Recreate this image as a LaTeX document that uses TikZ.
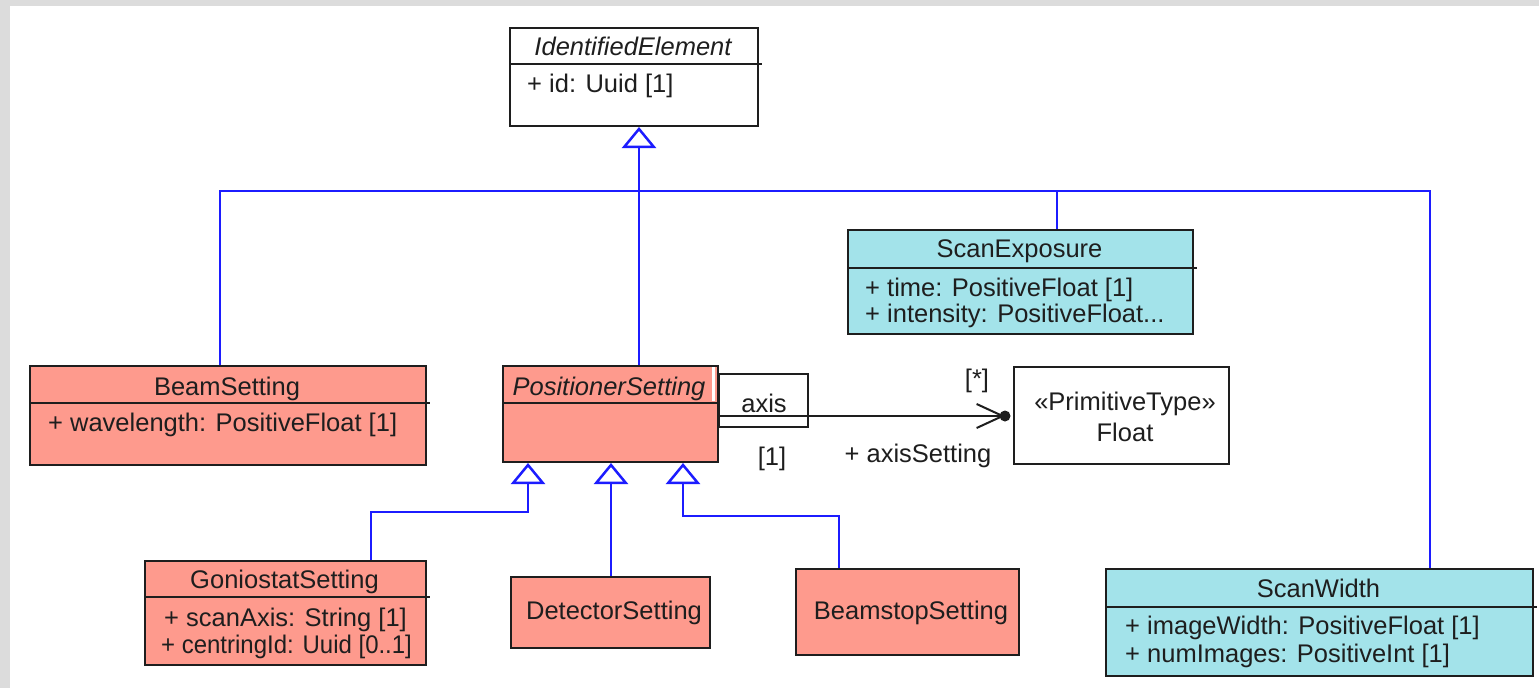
\documentclass[tikz,border=0pt]{standalone}
\usepackage{fontspec}
\setmainfont{Liberation Sans}
\usetikzlibrary{arrows.meta,calc}
\definecolor{salmon}{RGB}{254,154,141}
\definecolor{aqua}{RGB}{163,227,234}
\definecolor{genblue}{RGB}{28,28,255}
\definecolor{pagegray}{RGB}{220,220,220}
\definecolor{ink}{RGB}{30,30,30}

\begin{document}
\begin{tikzpicture}[x=1pt,y=-1pt,
  classbox/.style={draw=ink, line width=2pt, rectangle, inner sep=0pt, anchor=north west},
  divider/.style={draw=ink, line width=2pt},
  txt/.style={inner sep=0pt, text=ink, font=\fontsize{25.5}{30}\selectfont},
  ttl/.style={txt, anchor=base},
  ittl/.style={ttl, font=\fontsize{25.5}{30}\selectfont\itshape},
  attr/.style={txt, anchor=base west},
  genline/.style={draw=genblue, line width=2.5pt},
  gen/.style={genline, -{Triangle[open, fill=white, length=21pt, width=34pt]}},
  assoc/.style={draw=ink, line width=2pt},
]
% page area
\useasboundingbox (0,0) rectangle (1539,688);
\fill[white] (0,0) rectangle (1539,688);
\fill[pagegray] (0,0) rectangle (1539,6);
\fill[pagegray] (0,0) rectangle (10,688);

% ---- classes ----
% IdentifiedElement
\node[classbox, fill=white, minimum width=248pt, minimum height=98pt] (ident) at (509,27) {};
\draw[divider] ($(ident.north west)+(0,37)$) -- ($(ident.north east)+(3,37)$);
\node[ittl] (identT) at (633,55) {IdentifiedElement};
\node[attr] (identA) at (527,92) {+ id: Uuid [1]};

% BeamSetting
\node[classbox, fill=salmon, minimum width=396pt, minimum height=99pt] (beam) at (29,365) {};
\draw[divider] ($(beam.north west)+(0,38)$) -- ($(beam.north east)+(3,38)$);
\node[ttl] (beamT) at (227,395) {BeamSetting};
\node[attr] (beamA) at (48,431) {+ wavelength: PositiveFloat [1]};

% PositionerSetting
\node[classbox, fill=salmon, minimum width=215pt, minimum height=96pt] (positioner) at (502,365) {};
\draw[divider] ($(positioner.north west)+(0,38)$) -- ($(positioner.north east)+(0,38)$);
\node[ittl] (positionerT) at (609,395) {PositionerSetting};
\fill[white] (712,367) rectangle (714.5,401);

% qualifier
\node[classbox, fill=white, minimum width=89pt, minimum height=53pt] (qual) at (718,373) {};
\node[ttl] (qualT) at (764,412) {axis};

% Float
\node[classbox, fill=white, minimum width=215pt, minimum height=97pt] (float) at (1013,366) {};
\node[ttl] (floatS) at (1125,410) {«PrimitiveType»};
\node[ttl] (floatT) at (1125,441) {Float};

% ScanExposure
\node[classbox, fill=aqua, minimum width=345pt, minimum height=104pt] (scanexp) at (847,229) {};
\draw[divider] ($(scanexp.north west)+(0,39)$) -- ($(scanexp.north east)+(3,39)$);
\node[ttl] (scanexpT) at (1019.5,257) {ScanExposure};
\node[attr] (scanexpA) at (865,296) {+ time: PositiveFloat [1]};
\node[attr] (scanexpB) at (865,322) {+ intensity: PositiveFloat...};

% GoniostatSetting
\node[classbox, fill=salmon, minimum width=281pt, minimum height=104pt] (gonio) at (144,560) {};
\draw[divider] ($(gonio.north west)+(0,37)$) -- ($(gonio.north east)+(3,37)$);
\node[ttl] (gonioT) at (284.5,588) {GoniostatSetting};
\node[attr] (gonioA) at (164,626) {+ scanAxis: String [1]};
\node[attr] (gonioB) at (161,653) {\scalebox{0.94}[1]{+ centringId: Uuid [0..1]}};

% DetectorSetting
\node[classbox, fill=salmon, minimum width=199pt, minimum height=71pt] (detector) at (510,576) {};
\node[ttl] (detectorT) at (614,619) {DetectorSetting};

% BeamstopSetting
\node[classbox, fill=salmon, minimum width=223pt, minimum height=86pt] (beamstop) at (795,568) {};
\node[ttl] (beamstopT) at (911,619) {BeamstopSetting};

% ScanWidth
\node[classbox, fill=aqua, minimum width=427pt, minimum height=107pt] (scanwidth) at (1105,568) {};
\draw[divider] ($(scanwidth.north west)+(0,39)$) -- ($(scanwidth.north east)+(3,39)$);
\node[ttl] (scanwidthT) at (1318.5,597) {ScanWidth};
\node[attr] (scanwidthA) at (1125,634) {+ imageWidth: PositiveFloat [1]};
\node[attr] (scanwidthB) at (1125,662) {+ numImages: PositiveInt [1]};

% ---- generalizations ----
\coordinate (busy) at (0,191);
\coordinate (colA) at (220,0);
\coordinate (colB) at (639,0);
\coordinate (colC) at (1057,0);
\coordinate (colD) at (1430,0);
\draw[gen] (positioner.north -| colB) -- (ident.south -| colB);
\draw[genline] (beam.north -| colA) -- (colA |- busy) -- (colD |- busy) -- (scanwidth.north -| colD);
\draw[genline] (scanexp.north -| colC) -- (colC |- busy);

\coordinate (gy) at (0,512);
\coordinate (g1) at (371,0);
\coordinate (g2) at (528,0);
\draw[gen] (gonio.north -| g1) -- (g1 |- gy) -- (g2 |- gy) -- (positioner.south -| g2);
\coordinate (d1) at (611,0);
\draw[gen] (detector.north -| d1) -- (positioner.south -| d1);
\coordinate (by) at (0,516);
\coordinate (b1) at (839,0);
\coordinate (b2) at (683,0);
\draw[gen] (beamstop.north -| b1) -- (b1 |- by) -- (b2 |- by) -- (positioner.south -| b2);

% ---- qualified association ----
\node[circle, fill=ink, inner sep=0pt, minimum size=11pt] (owndot) at (1005,416) {};
\draw[assoc, -{Straight Barb[length=26pt, width=24pt]}] (qual.west |- owndot) -- (owndot.center);
\node[ttl] (multStar) at (977,387) {[*]};
\node[ttl] (multOne) at (772,465) {[1]};
\node[ttl] (roleName) at (918,462) {+ axisSetting};
\end{tikzpicture}
\end{document}
